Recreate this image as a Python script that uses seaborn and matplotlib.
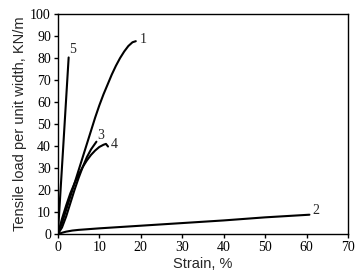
import pandas as pd
import matplotlib
matplotlib.use("Agg")
import matplotlib.pyplot as plt
import seaborn as sns

# strain (%) and tensile load (KN/m), one pair per curve
strain_1 = [0, 1, 2, 3, 4, 5, 6, 7, 8, 9, 10, 11, 12, 13, 14, 15, 16, 17, 18, 18.8]
load_1 = [0, 5, 11, 17, 23, 29, 35, 41, 47, 53, 58.5, 63.5, 68, 72.5, 76.5, 80, 83, 85.5, 87.2, 87.7]
strain_2 = [0, 1, 2, 3.5, 5, 10, 20, 30, 40, 50, 60.7]
load_2 = [0, 0.6, 1.1, 1.6, 1.9, 2.6, 3.8, 5.0, 6.2, 7.6, 8.8]
strain_3 = [0, 1, 2, 3, 4, 5, 6, 7, 8, 9.3]
load_3 = [0, 3, 8, 14, 20, 25.5, 30.5, 35, 38.5, 42]
strain_4 = [0, 1, 2, 3, 4, 5, 6, 7, 8, 9, 10, 11, 11.6, 12.1]
load_4 = [0, 7, 13, 18.5, 23, 27, 30.5, 33.5, 36, 38, 39.6, 40.6, 41, 39.8]
strain_5 = [0, 1.3, 2.6]
load_5 = [0, 40, 80.3]

curves = {
    "1": (strain_1, load_1),
    "2": (strain_2, load_2),
    "3": (strain_3, load_3),
    "4": (strain_4, load_4),
    "5": (strain_5, load_5),
}
label_pos = {"1": (19.8, 88.5), "2": (61.5, 10.5), "3": (9.6, 45), "4": (12.8, 40.5), "5": (2.8, 84)}

sns.set_style("ticks")
plt.rcParams["font.family"] = ["Liberation Sans", "DejaVu Sans"]

fig = plt.figure(figsize=(3.64, 2.77), dpi=100)
ax = fig.add_axes([0.159, 0.155, 0.797, 0.794])

for name, (xs, ys) in curves.items():
    df = pd.DataFrame({"strain": xs, "load": ys})
    sns.lineplot(data=df, x="strain", y="load", ax=ax, color="black",
                 linewidth=1.5, sort=False, estimator=None)
    lx, ly = label_pos[name]
    ax.text(lx, ly, name, fontsize=10, family="Liberation Serif", ha="left", va="center")

ax.set_xlim(0, 70)
ax.set_ylim(0, 100)
ax.set_xticks(range(0, 71, 10))
ax.set_yticks(range(0, 101, 10))
ax.set_xlabel("Strain, %", fontsize=10.5, labelpad=2)
ax.set_ylabel("Tensile load per unit width, KN/m", fontsize=10.5, labelpad=2)
for lab in ax.get_xticklabels() + ax.get_yticklabels():
    lab.set_family("Liberation Serif")
    lab.set_fontsize(10)
ax.tick_params(direction="out", length=3, width=1, pad=2, colors="black")
for sp in ax.spines.values():
    sp.set_color("black")
    sp.set_linewidth(1)

fig.savefig("out.png", dpi=100)
